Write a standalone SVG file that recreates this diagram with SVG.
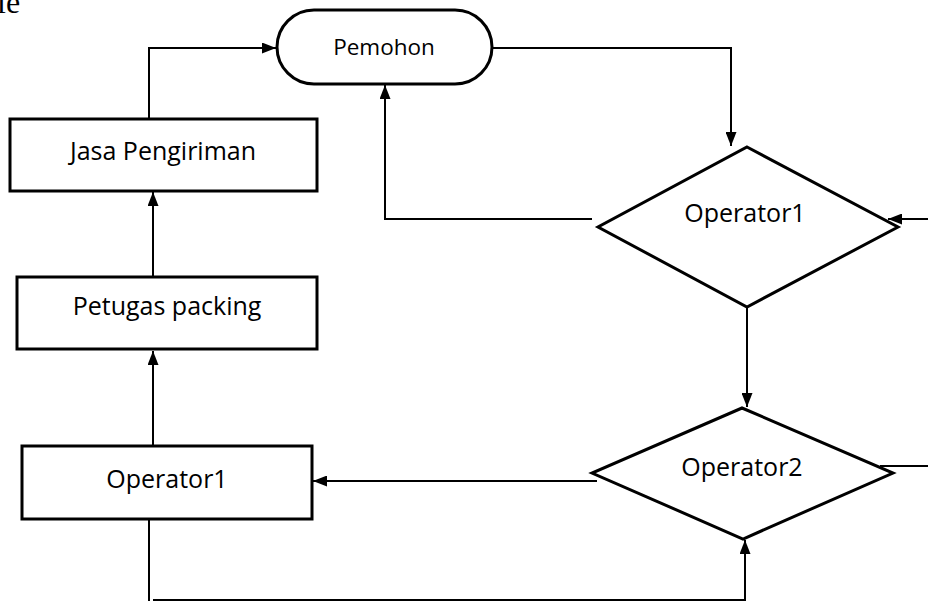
<svg xmlns="http://www.w3.org/2000/svg" width="928" height="601" viewBox="0 0 928 601">
<defs>
<marker id="ah" viewBox="0 0 14 11" refX="14" refY="5.5" markerWidth="14" markerHeight="11" markerUnits="userSpaceOnUse" orient="auto">
<path d="M0,0 L14,5.5 L0,11 Z" fill="#000"/>
</marker>
<style>
.shape{fill:#fff;stroke:#000;stroke-width:3}
.lbl{font-family:"Open Sans","Liberation Sans",sans-serif;font-size:24px;fill:#000;text-anchor:middle}
.con{fill:none;stroke:#000;stroke-width:2}
</style>
</defs>
<rect width="928" height="601" fill="#fff"/>
<text x="-3" y="13" font-family="Liberation Serif, serif" font-size="32" fill="#000">le</text>
<g id="connectors">
<path class="con" d="M149,119 V48 H276" marker-end="url(#ah)"/>
<path class="con" d="M492,48 H731 V146" marker-end="url(#ah)"/>
<path class="con" d="M592,219 H385 V85" marker-end="url(#ah)"/>
<path class="con" d="M928,219 H888" marker-end="url(#ah)"/>
<path class="con" d="M747,307 V407" marker-end="url(#ah)"/>
<path class="con" d="M880,466 H928"/>
<path class="con" d="M597,481 H313" marker-end="url(#ah)"/>
<path class="con" d="M153,446 V351" marker-end="url(#ah)"/>
<path class="con" d="M153,277 V192" marker-end="url(#ah)"/>
<path class="con" d="M149,519 V601"/>
<path class="con" d="M153,600 H745 V540" marker-end="url(#ah)"/>
</g>
<g id="pemohon">
<rect class="shape" x="277" y="10" width="215" height="74" rx="37"/>
<text class="lbl" x="384" y="55" style="font-size:22.5px">Pemohon</text>
</g>
<g id="jasa">
<rect class="shape" x="10" y="119" width="307" height="72"/>
<text class="lbl" x="163" y="160" style="font-size:25px">Jasa Pengiriman</text>
</g>
<g id="petugas">
<rect class="shape" x="17" y="277" width="300" height="72"/>
<text class="lbl" x="167" y="315" style="font-size:25px">Petugas packing</text>
</g>
<g id="operator1-box">
<rect class="shape" x="22" y="446" width="290" height="73"/>
<text class="lbl" x="167" y="488" style="font-size:25px">Operator1</text>
</g>
<g id="operator1-diamond">
<polygon class="shape" points="747,147 898,227 747,307 598,227"/>
<text class="lbl" x="745" y="222" style="font-size:25px">Operator1</text>
</g>
<g id="operator2-diamond">
<polygon class="shape" points="742,408 893,473 743,539 592,473"/>
<text class="lbl" x="742" y="476" style="font-size:25px">Operator2</text>
</g>
</svg>
